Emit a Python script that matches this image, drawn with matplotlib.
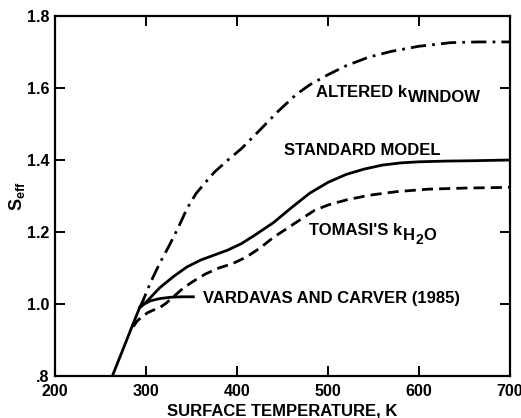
import numpy as np
import matplotlib
matplotlib.use("Agg")
import matplotlib.pyplot as plt

plt.rcParams['font.family'] = ['Liberation Sans', 'DejaVu Sans']
plt.rcParams['font.weight'] = 'bold'
plt.rcParams['axes.labelweight'] = 'bold'
plt.rcParams['mathtext.fontset'] = 'custom'
plt.rcParams['mathtext.rm'] = 'Liberation Sans:bold'
plt.rcParams['mathtext.it'] = 'Liberation Sans:bold'
plt.rcParams['mathtext.bf'] = 'Liberation Sans:bold'

# surface temperature (K) and effective solar constant for each run
std_T = [263, 275, 285, 293, 300, 315, 330, 345, 360, 375, 390, 405, 420,
         440, 460, 480, 500, 520, 540, 560, 580, 600, 630, 660, 700]
std_S = [0.80, 0.876, 0.94, 0.99, 1.005, 1.045, 1.076, 1.103, 1.122, 1.136,
         1.150, 1.168, 1.192, 1.226, 1.268, 1.308, 1.338, 1.360, 1.375,
         1.386, 1.392, 1.395, 1.397, 1.398, 1.400]

win_T = [293, 297, 305, 315, 325, 335, 345, 355, 365, 375, 390, 405, 425,
         445, 465, 480, 500, 520, 545, 570, 600, 635, 665, 700]
win_S = [0.99, 1.011, 1.06, 1.113, 1.16, 1.21, 1.265, 1.307, 1.337, 1.366,
         1.400, 1.432, 1.483, 1.535, 1.582, 1.609, 1.637, 1.662, 1.686,
         1.702, 1.716, 1.726, 1.728, 1.728]

tom_T = [286, 290, 296, 302, 308, 315, 322, 330, 340, 350, 365, 380, 395,
         410, 425, 440, 455, 470, 485, 500, 520, 545, 575, 610, 650, 700]
tom_S = [0.937, 0.952, 0.966, 0.976, 0.983, 0.990, 1.002, 1.020, 1.042,
         1.060, 1.083, 1.100, 1.112, 1.130, 1.155, 1.185, 1.210, 1.235,
         1.260, 1.275, 1.289, 1.302, 1.312, 1.319, 1.322, 1.324]

vc_T = [293, 298, 305, 315, 328, 340, 352]
vc_S = [0.99, 1.000, 1.009, 1.015, 1.019, 1.020, 1.020]

x_ticks = [200, 300, 400, 500, 600, 700]
y_ticks = [0.8, 1.0, 1.2, 1.4, 1.6, 1.8]
y_labels = ['.8', '1.0', '1.2', '1.4', '1.6', '1.8']

fig = plt.figure(figsize=(5.21, 4.18), dpi=100)
ax = fig.add_axes([0.1056, 0.1005, 0.8734, 0.8612])

lw = 2.0
ax.plot(std_T, std_S, color='black', lw=lw, solid_capstyle='butt')
ax.plot(win_T, win_S, color='black', lw=lw, linestyle=(0, (5.5, 2.2, 1, 2.2)))
ax.plot(tom_T, tom_S, color='black', lw=lw, linestyle=(0, (4, 2.2)))
ax.plot(vc_T, vc_S, color='black', lw=lw)

ax.set_xlim(200, 700)
ax.set_ylim(0.8, 1.8)
ax.set_xticks(x_ticks)
ax.set_yticks(y_ticks)
ax.set_yticklabels(y_labels)
ax.tick_params(direction='in', length=7, width=1.4, labelsize=11.5,
               top=True, right=True)
ax.tick_params(axis='x', pad=6)
ax.tick_params(axis='y', pad=4)
for lab in ax.get_xticklabels() + ax.get_yticklabels():
    lab.set_fontweight('bold')
for sp in ax.spines.values():
    sp.set_linewidth(1.6)

ax.set_xlabel('SURFACE TEMPERATURE, K', fontsize=12, fontweight='bold')
ax.xaxis.set_label_coords(0.5, -0.076)
ax.set_ylabel(r'S$_{\mathrm{eff}}$', fontsize=13)
ax.yaxis.set_label_coords(-0.062, 0.5)

fs = 12


def sub_after(artist, text, dx=0.5, dy=-3.6, size=fs):
    # place a lowered piece of text just right of another text artist
    return ax.annotate(text, xy=(1, 0), xycoords=artist, xytext=(dx, dy),
                       textcoords='offset points', fontsize=size,
                       fontweight='bold', ha='left', va='bottom')


def label(x, y, main):
    return ax.text(x, y, main, fontsize=fs, fontweight='bold',
                   ha='left', va='baseline')


t = label(487, 1.575, 'ALTERED k')
sub_after(t, 'WINDOW')
label(451.6, 1.414, 'STANDARD MODEL')
t = label(479, 1.192, "TOMASI'S k")
h = sub_after(t, 'H')
sub_after(h, '2', dx=0.3, dy=-3.0, size=10)
sub_after(h, 'O', dx=6.5, dy=0)
label(362.6, 1.003, 'VARDAVAS AND CARVER (1985)')

fig.savefig('out.png', dpi=100)
